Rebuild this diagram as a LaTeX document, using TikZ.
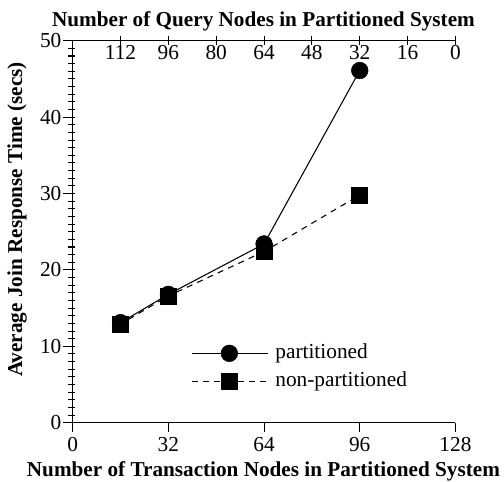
\documentclass[tikz,border=0pt]{standalone}
\usepackage{fontspec}
\setmainfont{Liberation Serif}
\tikzset{
  dotmark/.style={minimum size=12.5pt,inner sep=0pt,fill,draw,circle},
  boxmark/.style={minimum size=12pt,inner sep=0pt,fill,draw,rectangle},
  ticklab/.style={font=\fontsize{16}{16}\selectfont,inner sep=0pt},
  axtitle/.style={font=\fontsize{15.9}{16}\selectfont\bfseries,inner sep=0pt},
  dashline/.style={dash pattern=on 4.5pt off 4pt},
}
\begin{document}
\begin{tikzpicture}[x=2.2425pt,y=5.73pt]
\useasboundingbox (-24.31,-7.63) rectangle (144.25,55.33);
% axes
\draw (0,0) coordinate(orig);
\draw (0,50) coordinate(topl);
\draw (128,50) coordinate(topr);
\draw (128,0) coordinate(botr);
\draw[line width=1pt] (orig) -- (topl) -- (topr);
\draw[line width=1pt] (orig) -- (botr);
\foreach \y in {0,...,50} \draw[line width=0.8pt] ([xshift=-3.3pt]0,\y) -- ([xshift=1.7pt]0,\y);
\foreach \y in {0,10,...,50} {
  \draw[line width=0.8pt] ([xshift=-7.2pt]0,\y) -- ([xshift=1.7pt]0,\y);
  \draw (0,\y) node[ticklab,anchor=east,xshift=-8.3pt] {\y};
}
\foreach \x in {0,32,...,128} {
  \draw[line width=0.8pt] (\x,0) -- ([yshift=-6.75pt]\x,0);
  \draw (\x,-2.8) node[ticklab] {\x};
}
\foreach \x/\q in {16/112,32/96,48/80,64/64,80/48,96/32,112/16,128/0} {
  \draw[line width=0.8pt] ([yshift=-3.4pt]\x,50) -- ([yshift=3.4pt]\x,50);
  \draw (\x,48.5) node[ticklab] {\q};
}
\draw (63.8,52.6) node[axtitle](qtitle) {Number of Query Nodes in Partitioned System};
\draw (63.8,-6.3) node[axtitle](ttitle) {Number of Transaction Nodes in Partitioned System};
\draw (-18.6,26.6) node[axtitle,rotate=90](ytitle) {Average Join Response Time (secs)};
% partitioned
\draw (16,13.1) node[dotmark](p1) {};
\draw (32,16.8) node[dotmark](p2) {};
\draw (64,23.4) node[dotmark](p3) {};
\draw (96,46.1) node[dotmark](p4) {};
\draw[line width=0.8pt] (p1) -- (p2) -- (p3) -- (p4);
% non-partitioned
\draw (16,12.9) node[boxmark](n1) {};
\draw (32,16.6) node[boxmark](n2) {};
\draw (64,22.4) node[boxmark](n3) {};
\draw (96,29.8) node[boxmark](n4) {};
\draw[line width=0.8pt,dashline] (n1) -- (n2) -- (n3) -- (n4);
% legend
\draw (39.8,9.08) coordinate(la1);
\draw (65.3,9.08) coordinate(la2);
\draw (52.4,9.08) node[dotmark](lp) {};
\draw (67.7,9.08) node[ticklab,anchor=west](lptext) {partitioned};
\draw[line width=0.8pt] (la1) -- (lp) -- (la2);
\draw (39.8,5.37) coordinate(lb1);
\draw (65.3,5.37) coordinate(lb2);
\draw (52.4,5.37) node[boxmark](ln) {};
\draw (67.7,5.37) node[ticklab,anchor=west](lntext) {non-partitioned};
\draw[line width=0.8pt,dashline] (lb1) -- (ln) -- (lb2);
\end{tikzpicture}
\end{document}
